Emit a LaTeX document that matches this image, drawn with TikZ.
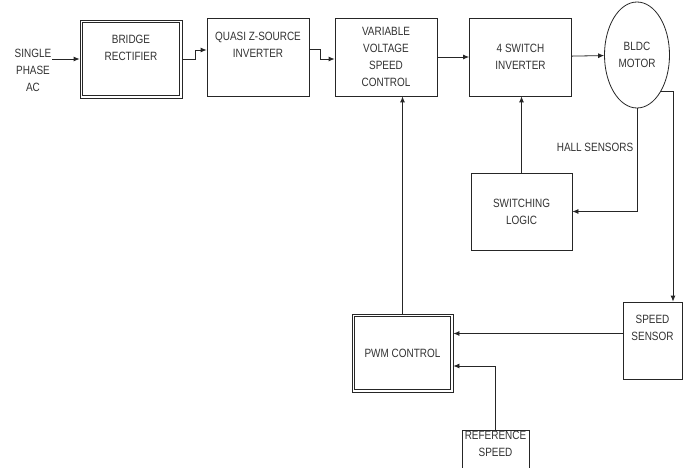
\documentclass[tikz,border=0pt]{standalone}
\usepackage{fontspec}
\setmainfont[FakeStretch=0.83]{Liberation Sans}
\usetikzlibrary{arrows.meta,shapes.geometric}

\begin{document}
\begin{tikzpicture}[x=1pt,y=-1pt,
  font=\fontsize{12}{17}\selectfont, text=black!80,
  block/.style={draw=black!85, line width=0.8pt, rectangle, align=center,
    inner sep=1pt, minimum width=102pt, minimum height=78pt},
  inner/.style={draw=black!85, line width=0.7pt},
  link/.style={draw=black!85, line width=0.8pt, -{Latex[length=6pt,width=5pt]}}]
\useasboundingbox[fill=white] (0,0) rectangle (691,468);

\node[align=center, inner sep=1pt] (ac) at (33,70) {SINGLE\\PHASE\\AC};
\node[block] (bridge) at (131,59) {BRIDGE\\RECTIFIER\\[6pt]};
\node[block] (quasi) at (258,57) {QUASI Z-SOURCE\\INVERTER\\[8pt]};
\node[block] (var) at (386,57) {VARIABLE\\VOLTAGE\\SPEED\\CONTROL};
\node[block] (inv) at (520.5,57) {4 SWITCH\\INVERTER};
\node[draw=black!85, line width=0.8pt, ellipse, align=center, inner sep=1pt,
  minimum width=65pt, minimum height=106pt] (motor) at (637,55) {BLDC\\MOTOR};
\node (hall) at (595,147) {HALL SENSORS};
\node[block, minimum width=101pt, minimum height=77pt] (logic) at (521.5,211.5) {SWITCHING\\LOGIC};
\node[block, minimum width=59pt, minimum height=77pt] (speed) at (652.5,340.5) {SPEED\\SENSOR\\[8pt]};
\node[block, minimum width=101pt, minimum height=78pt] (pwm) at (402.5,353) {PWM CONTROL};
\node[block, minimum width=67pt, minimum height=44pt, anchor=north] (ref) at (495.5,430) {REFERENCE\\SPEED\\[4pt]};

% second border of the double boxes
\draw[inner] ([shift={(2.8,2.8)}]bridge.north west) rectangle ([shift={(-2.8,-2.8)}]bridge.south east);
\draw[inner] ([shift={(2.8,2.8)}]pwm.north west) rectangle ([shift={(-2.8,-2.8)}]pwm.south east);

% power path
\draw[link] (ac.east |- bridge.west) -- (bridge.west);
\draw[link] (bridge.east) -- ++(13,0) |- ([yshift=7pt]quasi.west);
\draw[link] ([yshift=8pt]quasi.east) -- ++(11,0) |- ([yshift=-2pt]var.west);
\draw[link] (var) -- (inv);
\draw[link] (inv) -- (motor);

% feedback
\draw[link] (motor.south) |- (logic.east);
\draw[link] (logic.north) -- (logic.north |- inv.south);
\draw[link] (motor.-56) -| ([xshift=20.5pt]speed.north);
\draw[link] ([yshift=7pt]speed.west) -- ([yshift=7pt]speed.west -| pwm.east);
\draw[link] (ref.north) |- ([yshift=-13pt]pwm.east);
\draw[link] (pwm.north) -- (pwm.north |- var.south);
\end{tikzpicture}
\end{document}
